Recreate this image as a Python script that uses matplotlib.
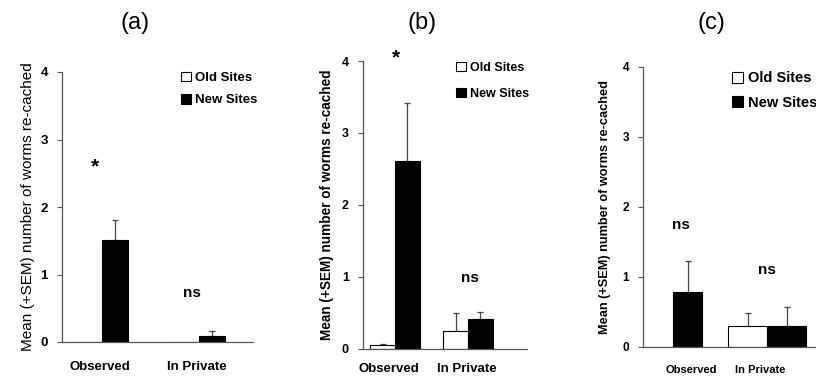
import matplotlib
matplotlib.use("Agg")
import matplotlib.pyplot as plt
from matplotlib.patches import Patch
import numpy as np

plt.rcParams['font.family'] = ['Liberation Sans', 'DejaVu Sans']

# ---- data ----
conditions = ["Observed", "In Private"]
series_names = ["Old Sites", "New Sites"]
panel_titles = ["(a)", "(b)", "(c)"]
y_ticks = [0, 1, 2, 3, 4]

old_mean_a = [0.0, 0.0]
new_mean_a = [1.51, 0.09]
old_sem_a = [0.0, 0.0]
new_sem_a = [0.30, 0.07]
sig_a = ["*", "ns"]
sig_y_a = [2.6, 0.73]

old_mean_b = [0.05, 0.25]
new_mean_b = [2.61, 0.41]
old_sem_b = [0.02, 0.25]
new_sem_b = [0.81, 0.10]
sig_b = ["*", "ns"]
sig_y_b = [4.05, 0.98]

old_mean_c = [0.0, 0.29]
new_mean_c = [0.78, 0.29]
old_sem_c = [0.0, 0.19]
new_sem_c = [0.45, 0.28]
sig_c = ["ns", "ns"]
sig_y_c = [1.74, 1.09]

W, H = 816, 376
fig = plt.figure(figsize=(W / 100, H / 100), dpi=100)

AX_COL = '#555555'
ERR_COL = '#444444'


def px_axes(left, right, y0, y4):
    """Create axes from pixel extents (y0 = pixel row of value 0, y4 = row of value 4)."""
    return fig.add_axes([left / W, (H - y0) / H, (right - left) / W, (y0 - y4) / H])


panels = [
    dict(rect=(62, 253, 342, 72), xlim=(-0.412, 1.557), widths=(0.268, 0.268),
         old=old_mean_a, new=new_mean_a, old_e=old_sem_a, new_e=new_sem_a,
         sig=sig_a, sig_y=sig_y_a, sig_dx=(-0.07, -0.07),
         ylabel_bold=False, ylabel_size=11, ylabel_x=-0.141,
         tick_size=9.5, xtick_dx=(-0.02, -0.02), xtick_size=9.5, xpad=13.5,
         leg_anchor=(0.56, 1.045), leg_space=0.75, leg_size=9.5, title_cx=135),
    dict(rect=(363, 527, 348.7, 61), xlim=(-0.438, 1.808), widths=(0.336, 0.336),
         old=old_mean_b, new=new_mean_b, old_e=old_sem_b, new_e=new_sem_b,
         sig=sig_b, sig_y=sig_y_b, sig_dx=(0.01, 0.02),
         ylabel_bold=True, ylabel_size=9.8, ylabel_x=-0.177,
         tick_size=9, xtick_dx=(-0.08, -0.01), xtick_size=9.5, xpad=10,
         leg_anchor=(0.50, 1.035), leg_space=1.1, leg_size=9, title_cx=422),
    dict(rect=(643, 816, 346.7, 66.7), xlim=(-0.319, 1.521), widths=(0.309, 0.415),
         old=old_mean_c, new=new_mean_c, old_e=old_sem_c, new_e=new_sem_c,
         sig=sig_c, sig_y=sig_y_c, sig_dx=(0.085, 0.0),
         ylabel_bold=True, ylabel_size=9.2, ylabel_x=-0.185,
         tick_size=8.5, xtick_dx=(0.19, -0.07), xtick_size=8.0, xpad=13,
         leg_anchor=(0.44, 1.03), leg_space=0.72, leg_size=10.5, title_cx=711),
]

for p, title in zip(panels, panel_titles):
    ax = px_axes(*p['rect'])
    x = np.arange(len(conditions))
    w = np.array(p['widths'])
    ax.bar(x - w / 2, p['old'], width=w, color='white', edgecolor='black', linewidth=0.8, zorder=2)
    ax.bar(x + w / 2, p['new'], width=w, color='black', edgecolor='black', linewidth=0.8, zorder=2)
    for xs, means, sems in ((x - w / 2, p['old'], p['old_e']), (x + w / 2, p['new'], p['new_e'])):
        for xi, m, s in zip(xs, means, sems):
            if s > 0:
                ax.errorbar(xi, m, yerr=[[0], [s]], fmt='none', ecolor=ERR_COL,
                            elinewidth=0.9, capsize=2.5, capthick=0.9, zorder=1)

    for xi, lab, yv, dx in zip(x, p['sig'], p['sig_y'], p['sig_dx']):
        if lab == "*":
            ax.text(xi + dx, yv, lab, ha='center', va='center', fontsize=15,
                    fontweight='bold', clip_on=False)
        else:
            ax.text(xi + dx, yv, lab, ha='center', va='center', fontsize=11,
                    fontweight='bold', clip_on=False)

    ax.set_xlim(*p['xlim'])
    ax.set_ylim(0, 4)
    ax.set_yticks(y_ticks)
    ax.set_yticklabels([str(t) for t in y_ticks], fontweight='bold', fontsize=p['tick_size'])
    ax.tick_params(axis='y', direction='out', length=3.6, width=0.8, color=AX_COL, pad=6.5)
    ax.set_xticks(x + np.array(p['xtick_dx']))
    ax.set_xticklabels(conditions, fontweight='bold', fontsize=p['xtick_size'])
    ax.tick_params(axis='x', length=0, pad=p['xpad'])

    for side in ('top', 'right'):
        ax.spines[side].set_visible(False)
    for side in ('left', 'bottom'):
        ax.spines[side].set_color(AX_COL)
        ax.spines[side].set_linewidth(0.9)

    ax.set_ylabel("Mean (+SEM) number of worms re-cached",
                  fontweight='bold' if p['ylabel_bold'] else 'normal',
                  fontsize=p['ylabel_size'])
    ax.yaxis.set_label_coords(p['ylabel_x'], 0.5)

    handles = [Patch(facecolor='white', edgecolor='black', linewidth=0.8),
               Patch(facecolor='black', edgecolor='black', linewidth=0.8)]
    ax.legend(handles, series_names, loc='upper left', bbox_to_anchor=p['leg_anchor'],
              frameon=False, handlelength=0.75, handleheight=0.75, handletextpad=0.35,
              labelspacing=p['leg_space'], prop=dict(weight='bold', size=p['leg_size']))

    fig.text(p['title_cx'] / W, 1 - 23 / H, title, ha='center', va='center', fontsize=17)

fig.savefig("out.png", dpi=100)
